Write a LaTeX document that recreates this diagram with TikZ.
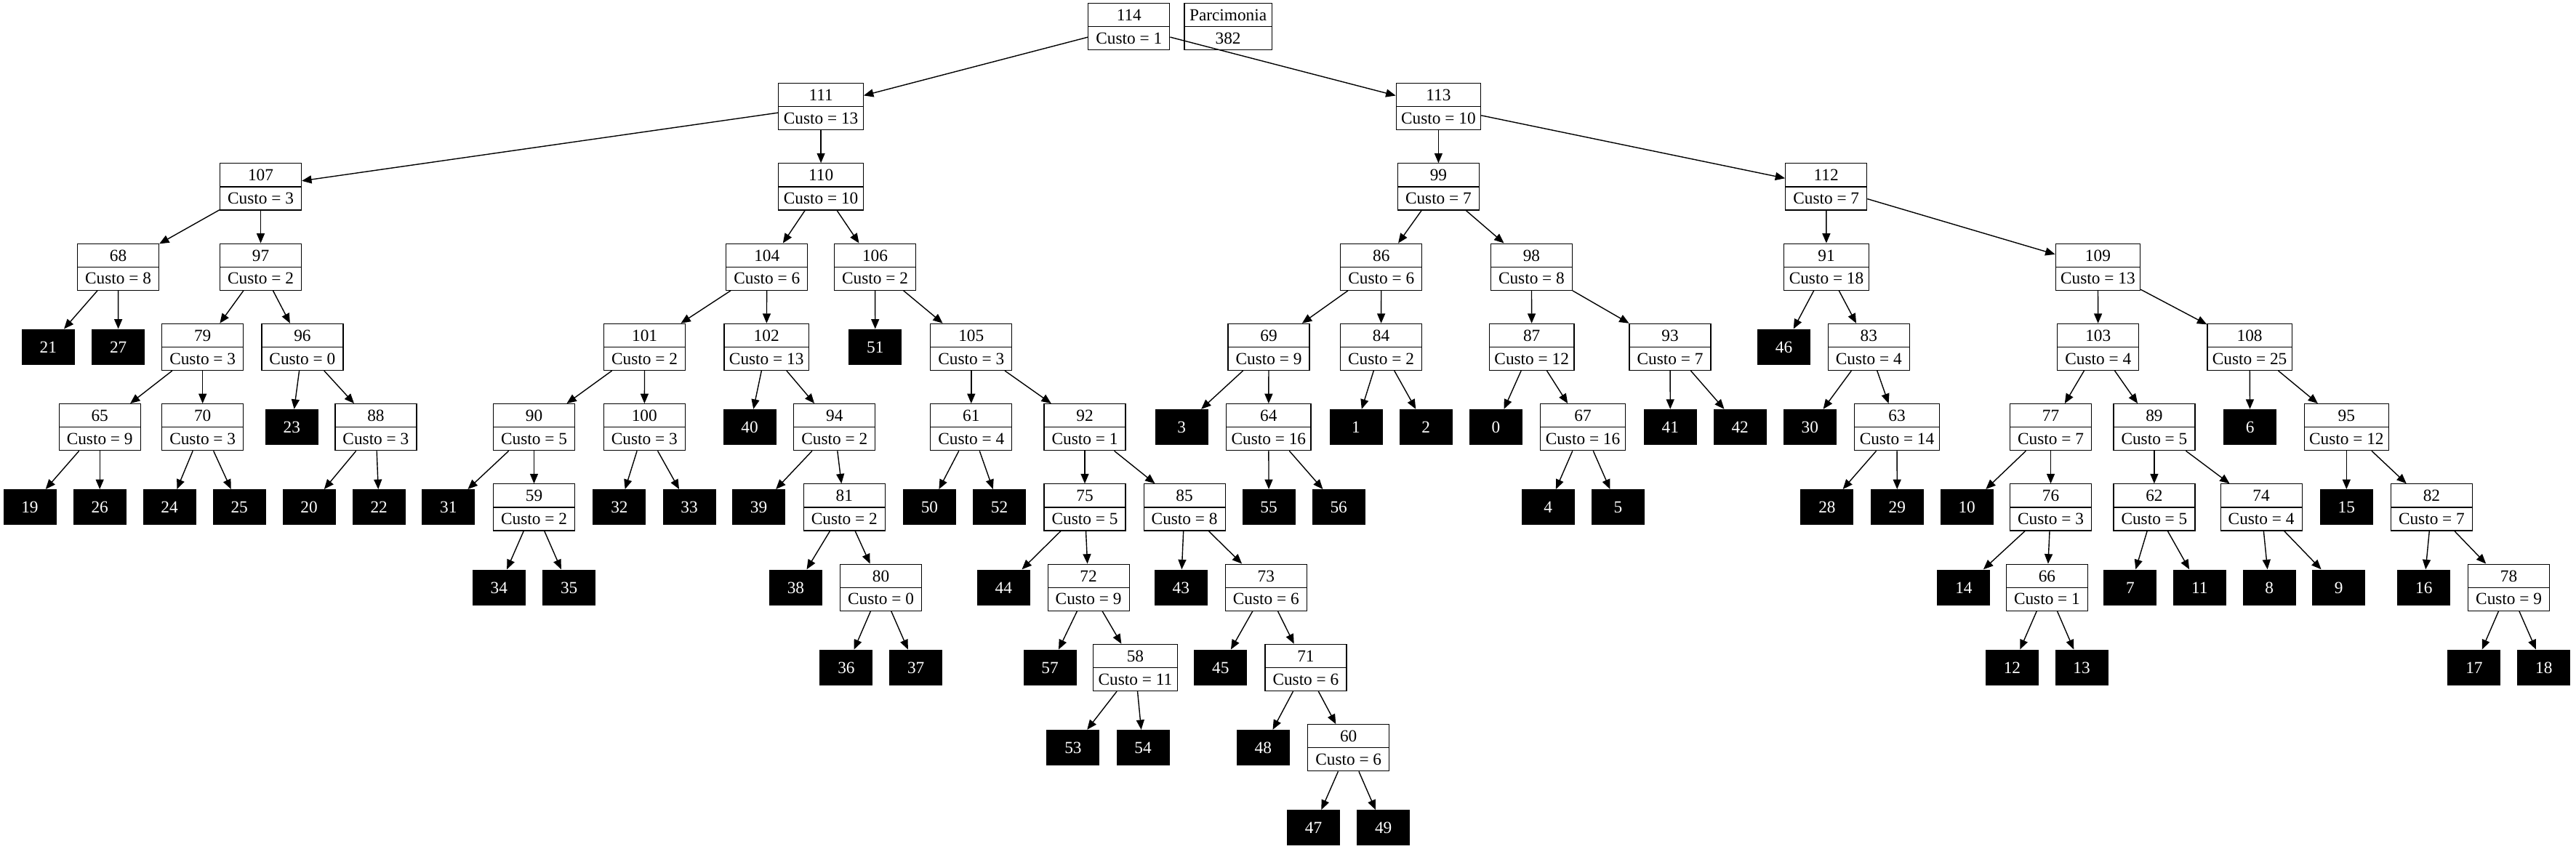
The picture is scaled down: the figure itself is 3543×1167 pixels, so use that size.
\documentclass[tikz,border=0pt]{standalone}
\usepackage{fontspec}
\setmainfont{Liberation Serif}
\usetikzlibrary{arrows.meta,shapes.multipart}

\begin{document}
\begin{tikzpicture}[x=0.5pt,y=-0.5pt,
    font=\fontsize{11.65pt}{13pt}\selectfont,
    no/.style={draw,line width=0.6pt,fill=white,rectangle split,rectangle split parts=2,
        minimum width=56pt,inner xsep=3.5pt,inner ysep=3.75pt,text height=8pt,text depth=0pt},
    folha/.style={fill=black,text=white,minimum width=36.5pt,minimum height=24.5pt,
        inner sep=0pt,text height=8pt,text depth=0pt},
    seta/.style={-{Triangle[length=6.7pt,width=5.5pt]},line width=0.7pt}]

    \useasboundingbox (0,0) rectangle (3543,1167);

    % Parcimonia
    \node[no] (parc) at (1689.1,36.4) {Parcimonia\nodepart{two}382};

    % Noeuds internes, rang par rang
    \node[no] (n114) at (1552.8,36.4) {114\nodepart{two}Custo = 1};
    \foreach \n/\x/\c in {111/1129.1/13, 113/1978.4/10}
        \node[no] (n\n) at (\x,146.7) {\n\nodepart{two}Custo = \c};
    \foreach \n/\x/\c in {107/358.5/3, 110/1129.1/10, 99/1978.4/7, 112/2511.7/7}
        \node[no] (n\n) at (\x,256.9) {\n\nodepart{two}Custo = \c};
    \foreach \n/\x/\c in {68/162.5/8, 97/358.5/2, 104/1054.8/6, 106/1203.5/2,
            86/1899.8/6, 98/2106.4/8, 91/2512/18, 109/2885.4/13}
        \node[no] (n\n) at (\x,367.2) {\n\nodepart{two}Custo = \c};
    \foreach \n/\x/\c in {79/278.7/3, 96/415.9/0, 101/886.6/2, 102/1054.2/13,
            105/1335.8/3, 69/1745/9, 84/1899.5/2, 87/2106.7/12, 93/2297/7,
            83/2570.3/4, 103/2885.7/4, 108/3094.1/25}
        \node[no] (n\n) at (\x,477.4) {\n\nodepart{two}Custo = \c};
    \foreach \n/\x/\c in {65/137.2/9, 70/278.7/3, 88/516.9/3, 90/734.5/5, 100/886.3/3,
            94/1147.8/2, 61/1335.8/4, 92/1492/1, 64/1744.8/16, 67/2177/16,
            63/2609/14, 77/2820.5/7, 89/2962.9/5, 95/3227.3/12}
        \node[no] (n\n) at (\x,587.7) {\n\nodepart{two}Custo = \c};
    \foreach \n/\x/\c in {59/734.5/2, 81/1161.3/2, 75/1492/5, 85/1629.1/8,
            76/2820.5/3, 62/2962.9/5, 74/3110.1/4, 82/3344.4/7}
        \node[no] (n\n) at (\x,697.9) {\n\nodepart{two}Custo = \c};
    \foreach \n/\x/\c in {80/1211.5/0, 72/1497.1/9, 73/1741.3/6, 66/2815.4/1, 78/3450.6/9}
        \node[no] (n\n) at (\x,808.2) {\n\nodepart{two}Custo = \c};
    \foreach \n/\x/\c in {58/1561.4/11, 71/1795.9/6}
        \node[no] (n\n) at (\x,918.4) {\n\nodepart{two}Custo = \c};
    \node[no] (n60) at (1854.7,1028.7) {60\nodepart{two}Custo = 6};

    % Feuilles
    \foreach \n/\x in {21/66.3, 27/162.7, 51/1203.8, 46/2453.5}
        \node[folha] (f\n) at (\x,477.4) {\n};
    \foreach \n/\x in {23/401.3, 40/1031, 3/1625.1, 1/1865, 2/1961.2, 0/2057.4,
            41/2297.3, 42/2393.2, 30/2489.3, 6/3094.6}
        \node[folha] (f\n) at (\x,587.7) {\n};
    \foreach \n/\x in {19/41, 26/137.2, 24/233, 25/329.2, 20/425.1, 22/521.2, 31/616.8,
            32/851.9, 33/948, 39/1043.6, 50/1278.4, 52/1374.5, 55/1745.1, 56/1841.2,
            4/2129.1, 5/2225.3, 28/2512.9, 29/2609.3, 10/2705.2, 15/3227.3}
        \node[folha] (f\n) at (\x,697.9) {\n};
    \foreach \n/\x in {34/686.3, 35/782.7, 38/1094.4, 44/1380.3, 43/1624.3, 14/2700.9,
            7/2929.9, 11/3025.2, 8/3121.1, 9/3216.6, 16/3333.8}
        \node[folha] (f\n) at (\x,808.2) {\n};
    \foreach \n/\x in {36/1163.9, 37/1259.7, 57/1444, 45/1678.8, 12/2767.4, 13/2863,
            17/3402.9, 18/3498.8}
        \node[folha] (f\n) at (\x,918.4) {\n};
    \foreach \n/\x in {53/1475.9, 54/1572, 48/1737.3}
        \node[folha] (f\n) at (\x,1028.7) {\n};
    \foreach \n/\x in {47/1806.5, 49/1902.7}
        \node[folha] (f\n) at (\x,1138.9) {\n};

    % Aretes
    \foreach \a/\b in {n114/n111, n114/n113, n111/n107, n111/n110, n113/n99, n113/n112,
            n107/n68, n107/n97, n110/n104, n110/n106, n99/n86, n99/n98, n112/n91, n112/n109,
            n68/f21, n68/f27, n97/n79, n97/n96, n104/n101, n104/n102, n106/f51, n106/n105,
            n86/n69, n86/n84, n98/n87, n98/n93, n91/f46, n91/n83, n109/n103, n109/n108,
            n79/n65, n79/n70, n96/f23, n96/n88, n101/n90, n101/n100, n102/f40, n102/n94,
            n105/n61, n105/n92, n69/f3, n69/n64, n84/f1, n84/f2, n87/f0, n87/n67,
            n93/f41, n93/f42, n83/f30, n83/n63, n103/n77, n103/n89, n108/f6, n108/n95,
            n65/f19, n65/f26, n70/f24, n70/f25, n88/f20, n88/f22, n90/f31, n90/n59,
            n100/f32, n100/f33, n94/f39, n94/n81, n61/f50, n61/f52, n92/n75, n92/n85,
            n64/f55, n64/f56, n67/f4, n67/f5, n63/f28, n63/f29, n77/f10, n77/n76,
            n89/n62, n89/n74, n95/f15, n95/n82, n59/f34, n59/f35, n81/f38, n81/n80,
            n75/f44, n75/n72, n85/f43, n85/n73, n76/f14, n76/n66, n62/f7, n62/f11,
            n74/f8, n74/f9, n82/f16, n82/n78, n80/f36, n80/f37, n72/f57, n72/n58,
            n73/f45, n73/n71, n66/f12, n66/f13, n78/f17, n78/f18, n58/f53, n58/f54,
            n71/f48, n71/n60, n60/f47, n60/f49}
        \draw[seta] (\a) -- (\b);
\end{tikzpicture}
\end{document}
